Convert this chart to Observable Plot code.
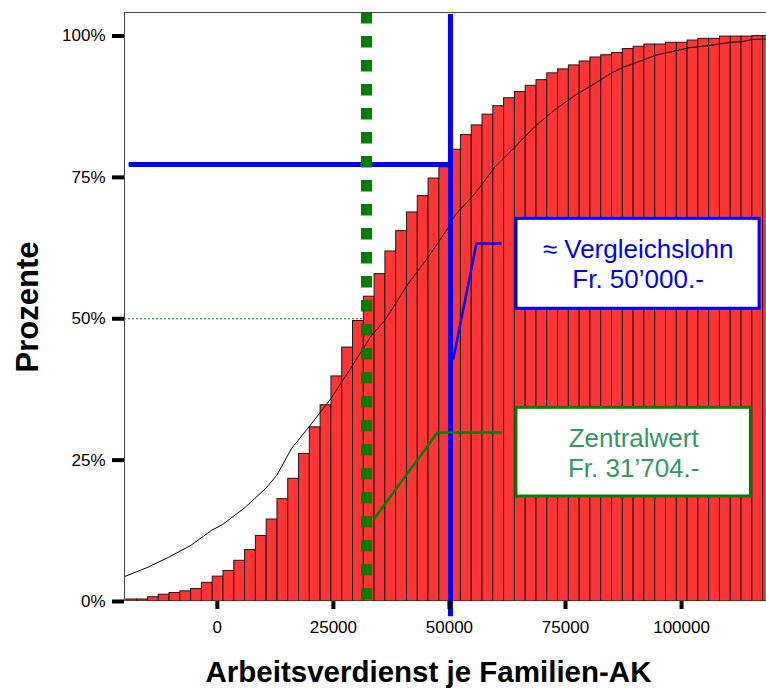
<!DOCTYPE html>
<html>
<head>
<meta charset="utf-8">
<script src="https://cdn.jsdelivr.net/npm/d3@7"></script>
<script src="https://cdn.jsdelivr.net/npm/@observablehq/plot@0.6"></script>
<style>
html, body { margin: 0; padding: 0; background: #fff; overflow: hidden; }
#chart svg { display: block; }
</style>
</head>
<body>
<div id="chart"></div>
<script>
// ---- data ----
const binEdges = [-19600, -17275, -14950, -12625, -10300, -7975, -5650, -3325, -1000, 1325,
  3650, 5975, 8300, 10625, 12950, 15275, 17600, 19925, 22250, 24575,
  26900, 29225, 31550, 33875, 36200, 38525, 40850, 43175, 45500, 47825,
  50150, 52475, 54800, 57125, 59450, 61775, 64100, 66425, 68750, 71075,
  73400, 75725, 78050, 80375, 82700, 85025, 87350, 89675, 92000, 94325,
  96650, 98975, 101300, 103625, 105950, 108275, 110600, 112925, 115250, 117575, 119900];
const cumPercent = [0.35, 0.35, 0.76, 1.2, 1.5, 1.8, 2.2, 3.3, 4.4, 5.4,
  7.2, 9.1, 11.6, 14.5, 18.1, 21.7, 26.1, 30.8, 34.7, 39.8,
  44.9, 49.6, 53.9, 57.9, 61.9, 65.5, 68.8, 71.7, 74.8, 76.8,
  79.9, 82.5, 84.2, 86.1, 87.6, 89.0, 90.1, 91.2, 92.2, 93.4,
  94.1, 94.8, 95.5, 96.2, 96.6, 97.0, 97.7, 98.1, 98.5, 98.5,
  98.8, 98.8, 99.2, 99.5, 99.5, 99.9, 99.9, 99.9, 100, 100];
const curveX = [-20000, -14935, -10496, -5754, -1293, 1142, 5884, 10345, 12780, 15948,
  20259, 24418, 28879, 33190, 36056, 41099, 45409, 49720, 51142, 55453,
  59763, 64073, 68384, 72694, 77004, 80603, 84978, 87435, 89871, 91875,
  94246, 96616, 99138, 101509, 103513, 105970, 108341, 110776, 113211, 115151, 118300];
const curveY = [4.4, 6.07, 7.83, 9.9, 12.56, 13.62, 16.57, 19.93, 22.28, 27.0,
  31.42, 35.84, 41.43, 47.04, 49.69, 56.18, 60.88, 66.08, 68.26, 72.1,
  76.8, 80.34, 84.0, 86.95, 89.48, 91.25, 93.49, 94.48, 95.19, 95.79,
  96.55, 97.03, 97.44, 97.91, 98.09, 98.32, 98.62, 98.9, 99.03, 99.38, 99.5];
const yTicks = [0, 25, 50, 75, 100];
const xTicks = [0, 25000, 50000, 75000, 100000];
const medianValue = 31704;
const medianPercent = 50;
const comparisonWage = 50000;
const comparisonPercent = 77.3;
const xTitle = "Arbeitsverdienst je Familien-AK";
const yTitle = "Prozente";
const blueLabel = "≈ Vergleichslohn\nFr. 50’000.-";
const greenLabel = "Zentralwert\nFr. 31’704.-";

// ---- derived tables ----
const bars = cumPercent.map((p, i) => ({x1: binEdges[i], x2: binEdges[i + 1], p}));
const curve = curveX.map((x, i) => ({x, y: curveY[i]}));

const X0 = -20000, X1 = 118300, YTOP = 104.16;
const BLUE = "#0000ff", GREEN = "#008000", GREEN_TEXT = "#339966", RED = "#ff3535";

const blueConnector = [{x: 50862, y: 42.97}, {x: 55819, y: 63.31}, {x: 60991, y: 63.31}];
const greenConnector = [{x: 33836, y: 14.68}, {x: 47414, y: 29.88}, {x: 60991, y: 29.88}];

const chart = Plot.plot({
  width: 766,
  height: 691,
  marginLeft: 124,
  marginRight: 0,
  marginTop: 12,
  marginBottom: 90,
  style: {fontFamily: "'Liberation Sans', Arial, sans-serif", background: "#fff", color: "#000"},
  x: {domain: [X0, X1], axis: null},
  y: {domain: [0, YTOP], axis: null},
  marks: [
    Plot.rect(bars, {x1: "x1", x2: "x2", y1: 0, y2: "p", fill: RED, stroke: "#1a1a1a", strokeWidth: 1, clip: true}),
    Plot.line(curve, {x: "x", y: "y", stroke: "#000", strokeWidth: 1}),
    Plot.ruleY([medianPercent], {x1: X0, x2: medianValue, stroke: GREEN, strokeWidth: 1, strokeDasharray: "2,2"}),
    Plot.ruleY([comparisonPercent], {x1: -19000, x2: comparisonWage, stroke: BLUE, strokeWidth: 5}),
    Plot.ruleX([medianValue], {y1: YTOP, y2: 0, dx: 2, stroke: GREEN, strokeWidth: 11, strokeDasharray: "11.5,12.5"}),
    Plot.ruleX([comparisonWage], {y1: 103.8, y2: -2.7, dx: 1, stroke: BLUE, strokeWidth: 5}),
    Plot.line(blueConnector, {x: "x", y: "y", stroke: BLUE, strokeWidth: 2.5}),
    Plot.line(greenConnector, {x: "x", y: "y", stroke: GREEN, strokeWidth: 2.5}),
    // frame: left and top lines
    Plot.ruleX([X0], {y1: 0, y2: YTOP, stroke: "#444", strokeWidth: 1}),
    Plot.ruleY([YTOP], {x1: X0, x2: X1, stroke: "#444", strokeWidth: 1}),
    // callout boxes
    Plot.rect([blueLabel], {x1: 64440, x2: 116810, y1: 51.76, y2: 67.67, fill: "#fff", stroke: BLUE, strokeWidth: 3}),
    Plot.text([blueLabel], {x: 90625, y: 59.75, text: d => d, fill: BLUE, fontSize: 26, lineHeight: 1.154}),
    Plot.rect([greenLabel], {x1: 64440, x2: 114935, y1: 18.57, y2: 34.25, fill: "#fff", stroke: GREEN, strokeWidth: 3}),
    Plot.text([greenLabel], {x: 89690, y: 26.4, text: d => d, fill: GREEN_TEXT, fontSize: 26, lineHeight: 1.154}),
    // axes
    Plot.axisY({ticks: yTicks, tickFormat: d => d + "%", tickSize: 12, tickPadding: 7, strokeWidth: 4, fontSize: 17, label: null}),
    Plot.axisX({ticks: xTicks, tickFormat: d => String(d), tickSize: 8, tickPadding: 11, strokeWidth: 4, fontSize: 17, label: null}),
    // axis titles
    Plot.text([xTitle], {frameAnchor: "bottom", dy: 71, dx: -17, lineAnchor: "middle", textAnchor: "middle", text: d => d, fontSize: 29.5, fontWeight: "bold"}),
    Plot.text([yTitle], {frameAnchor: "left", dx: -96, lineAnchor: "middle", textAnchor: "middle", rotate: -90, text: d => d, fontSize: 31, fontWeight: "bold"})
  ]
});
document.getElementById("chart").appendChild(chart);
</script>
</body>
</html>
